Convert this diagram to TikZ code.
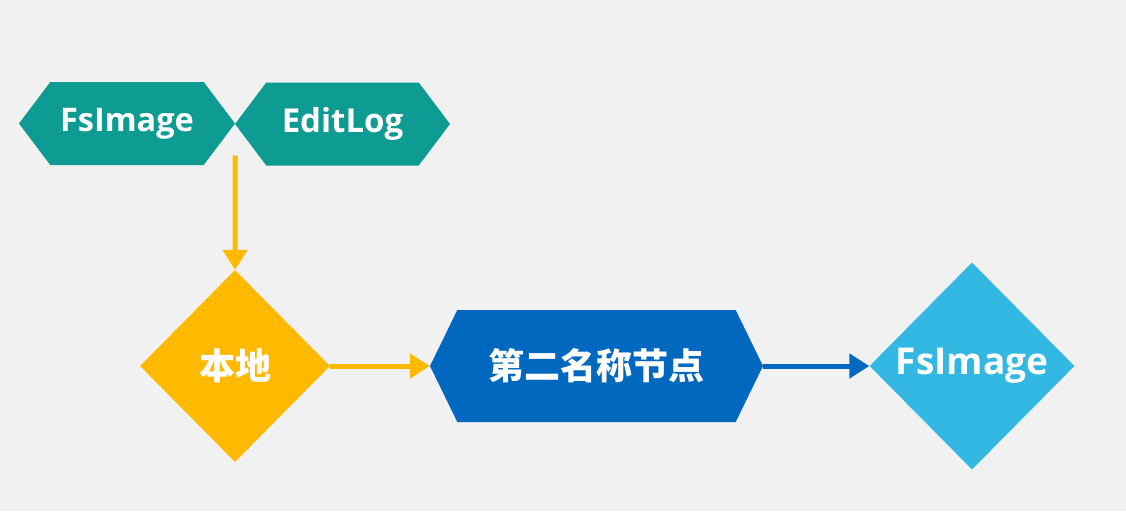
\documentclass[tikz,border=0pt]{standalone}
\usepackage{fontspec}
\setmainfont{Open Sans}
\newfontfamily\cjk{Noto Sans CJK SC}
\usetikzlibrary{shapes.geometric,shapes.symbols,arrows.meta}
\definecolor{bgcol}{HTML}{F1F1F1}
\definecolor{tealcol}{HTML}{0E9B91}
\definecolor{orangecol}{HTML}{FFB900}
\definecolor{bluecol}{HTML}{0068BE}
\definecolor{skycol}{HTML}{33B8E3}

\begin{document}
\begin{tikzpicture}[x=1pt, y=1pt,
    hexa/.style={signal, signal to=east and west, draw=none, inner sep=0pt,
      text=white, font=\bfseries},
    rhombus/.style={diamond, draw=none, inner sep=0pt, text=white, font=\bfseries},
    link/.style={line width=5pt, -{Triangle[length=20pt, width=24pt]}}]
    % Fond
    \fill[bgcol] (0,0) rectangle (1126,-511);
    \useasboundingbox (0,0) rectangle (1126,-511);

    % Ligne du haut (fichiers de metadonnees)
    \node[hexa, fill=tealcol, signal pointer angle=106, minimum width=216pt,
      minimum height=83pt, font=\bfseries\fontsize{32.5}{36}\selectfont]
      (fsimg) at (127,-123.5) {FsImage};
    \node[hexa, fill=tealcol, signal pointer angle=106, minimum width=215pt,
      minimum height=83pt, font=\bfseries\fontsize{33}{36}\selectfont]
      (editlog) at (342.5,-124) {EditLog};

    % Ligne du bas
    \node[rhombus, fill=orangecol, minimum width=190pt, minimum height=192pt,
      font=\cjk\bfseries\fontsize{36}{40}\selectfont]
      (local) at (235,-366) {本地};
    \node[hexa, fill=bluecol, signal pointer angle=128, minimum width=333pt,
      minimum height=112pt, font=\cjk\bfseries\fontsize{36}{40}\selectfont]
      (second) at (596.5,-366) {第二名称节点};
    \node[rhombus, fill=skycol, minimum width=205pt, minimum height=207pt,
      font=\bfseries\fontsize{37}{40}\selectfont]
      (newimg) at (972,-366) {FsImage};

    % Fleches
    \coordinate (merge) at ([yshift=-32pt]fsimg.east);
    \draw[link, orangecol] (merge) -- (local.north);
    \draw[link, orangecol] (local.east) -- (second.west);
    \draw[link, bluecol] (second.east) -- (newimg.west);
\end{tikzpicture}
\end{document}
